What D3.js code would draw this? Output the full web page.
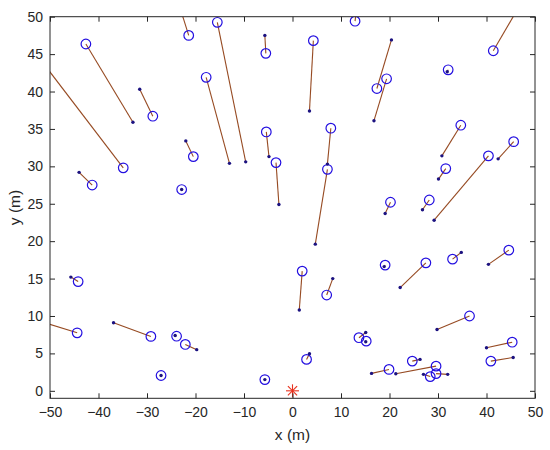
<!DOCTYPE html>
<html><head><meta charset="utf-8">
<script src="https://cdn.jsdelivr.net/npm/d3@7"></script>
<style>body{margin:0;background:#fff}svg{display:block}text{font-family:"Liberation Sans",Arial,sans-serif}</style>
</head><body><svg id="c" width="550" height="450"></svg>
<script>
const circX=[-42.6,-34.9,-28.8,-21.4,-15.5,-17.8,-5.5,4.3,12.9,17.4,19.4,32.1,41.4,34.7,31.6,45.6,40.4,20.2,28.2,19.1,27.5,33.0,44.6,36.5,45.3,40.9,19.9,24.7,29.6,29.6,28.4,13.7,15.2,2.9,-5.7,7.05,2.0,7.2,7.9,-3.4,-5.4,-20.45,-22.85,-41.3,-44.2,-29.2,-23.9,-22.1,-27.1,-44.4];
const circY=[46.35,29.8,36.7,47.5,49.25,41.9,45.1,46.8,49.4,40.4,41.7,42.9,45.45,35.5,29.7,33.3,31.4,25.2,25.5,16.8,17.1,17.6,18.8,10.0,6.5,3.97,2.86,3.97,3.3,2.3,1.9,7.1,6.64,4.2,1.5,12.8,16.0,29.6,35.1,30.5,34.6,31.3,26.9,27.5,14.6,7.27,7.3,6.2,2.05,7.75];
const dotX=[-32.9,-56,-31.5,-23.1,-9.65,-13.0,-5.7,3.5,13.2,20.4,16.8,31.9,48.2,30.8,30.1,42.4,29.2,19.1,26.8,18.9,22.2,34.8,40.4,29.8,40.0,45.5,16.3,26.3,21.3,32.0,27.0,15.1,15.1,3.5,-5.7,8.3,1.4,4.7,7.2,-2.8,-4.85,-22.0,-22.85,-44.0,-45.7,-36.9,-24.2,-19.75,-27.1,-53];
const dotY=[35.9,47.7,40.3,51.0,30.6,30.4,47.5,37.4,51.0,46.9,36.1,42.65,53.0,31.4,28.3,31.0,22.8,23.7,24.2,16.6,13.8,18.5,16.9,8.2,5.75,4.46,2.33,4.2,2.28,2.2,2.2,7.8,6.55,4.95,1.5,15.0,10.8,19.6,30.3,24.9,31.3,33.4,26.9,29.2,15.2,9.1,7.4,5.5,2.05,9.5];
const sourceX=[0], sourceY=[0];
const xTicks=[-50,-40,-30,-20,-10,0,10,20,30,40,50];
const yTicks=[0,5,10,15,20,25,30,35,40,45,50];

const svg=d3.select("#c");
const L=50,R=535,T=16.7,B=398.3;
const x=d3.scaleLinear().domain([-50,50]).range([L,R]);
const y=d3.scaleLinear().domain([-1,50]).range([B,T]);
const ax="#262626";

svg.append("defs").append("clipPath").attr("id","clip").append("rect")
  .attr("x",L).attr("y",T).attr("width",R-L).attr("height",B-T);

const g=svg.append("g").attr("clip-path","url(#clip)");
const idx=d3.range(circX.length);
g.selectAll("line.l").data(idx).join("line").attr("class","l")
  .attr("x1",i=>x(circX[i])).attr("y1",i=>y(circY[i]))
  .attr("x2",i=>x(dotX[i])).attr("y2",i=>y(dotY[i]))
  .attr("stroke","#964a22").attr("stroke-width",1.1);
g.selectAll("circle.c").data(idx).join("circle").attr("class","c")
  .attr("cx",i=>x(circX[i])).attr("cy",i=>y(circY[i])).attr("r",4.8)
  .attr("fill","none").attr("stroke","#2410e0").attr("stroke-width",1.2);
g.selectAll("circle.d").data(idx).join("circle").attr("class","d")
  .attr("cx",i=>x(dotX[i])).attr("cy",i=>y(dotY[i])).attr("r",1.7)
  .attr("fill","#1c1280");

// asterisk source
const sx=x(sourceX[0]), sy=y(sourceY[0]), s=6.5;
const ast=svg.append("g").attr("stroke","#e8321e").attr("stroke-width",1.1);
[[0,1],[1,0],[0.707,0.707],[0.707,-0.707]].forEach(([a,b])=>{
  ast.append("line").attr("x1",sx-a*s).attr("y1",sy-b*s).attr("x2",sx+a*s).attr("y2",sy+b*s);
});

// axes box
const axesG=svg.append("g");
const axB=axesG.append("g").attr("transform",`translate(0,${B})`)
  .call(d3.axisBottom(x).tickValues(xTicks).tickSize(-5).tickPadding(9).tickFormat(d3.format("d")));
const axL=axesG.append("g").attr("transform",`translate(${L},0)`)
  .call(d3.axisLeft(y).tickValues(yTicks).tickSize(-5).tickPadding(7).tickFormat(d3.format("d")));
const axT=axesG.append("g").attr("transform",`translate(0,${T})`)
  .call(d3.axisTop(x).tickValues(xTicks).tickSize(-5).tickFormat(""));
const axR=axesG.append("g").attr("transform",`translate(${R},0)`)
  .call(d3.axisRight(y).tickValues(yTicks).tickSize(-5).tickFormat(""));
[axB,axL,axT,axR].forEach(a=>{
  a.select(".domain").remove();
  a.selectAll("line").attr("stroke",ax);
  a.selectAll("text").attr("fill",ax).style("font-size","14px").style("font-family","'Liberation Sans',Arial,sans-serif");
});
axesG.append("rect").attr("x",L).attr("y",T).attr("width",R-L).attr("height",B-T)
  .attr("fill","none").attr("stroke",ax).attr("stroke-width",1);

svg.append("text").attr("x",(L+R)/2).attr("y",440).attr("text-anchor","middle")
  .attr("fill",ax).style("font-size","15.5px").text("x (m)");
svg.append("text").attr("transform",`translate(20,${(T+B)/2}) rotate(-90)`).attr("text-anchor","middle")
  .attr("fill",ax).style("font-size","15.5px").text("y (m)");
</script></body></html>
